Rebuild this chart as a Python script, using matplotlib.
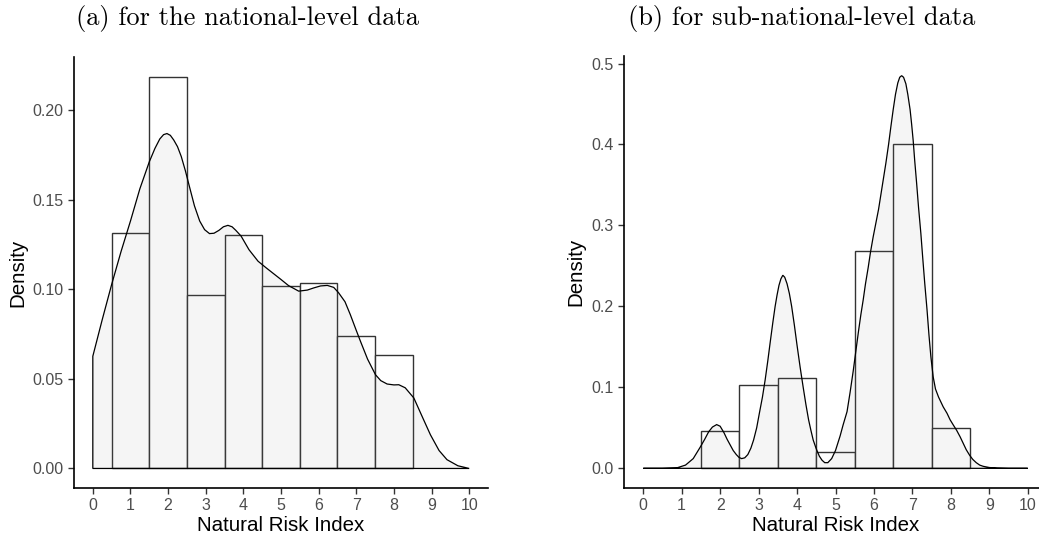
import matplotlib.pyplot as plt

plt.rcParams['font.family'] = ['Liberation Sans', 'DejaVu Sans']

# Histogram bins (centres, width 1) and densities.
nat_bins = [1, 2, 3, 4, 5, 6, 7, 8]
nat_heights = [0.1315, 0.2186, 0.0966, 0.1302, 0.102, 0.1034, 0.0737, 0.0635]

sub_bins = [2, 3, 4, 5, 6, 7, 8]
sub_heights = [0.046, 0.103, 0.112, 0.020, 0.269, 0.400, 0.050]

# Density curves, sampled by eye.
nat_dens_x = [0, 0.25, 0.5, 0.75, 1.0, 1.25, 1.5, 1.65, 1.78, 1.88, 1.97, 2.06,
              2.15, 2.25, 2.35, 2.46, 2.57, 2.7, 2.84, 2.97, 3.1, 3.22, 3.35,
              3.47, 3.59, 3.7, 3.8, 3.94, 4.15, 4.39, 4.6, 4.83, 5.0,
              5.2, 5.47, 5.7, 5.87, 6.05, 6.23, 6.4, 6.53, 6.7, 6.84, 7.0,
              7.11, 7.3, 7.51, 7.65, 7.82, 8.0, 8.13, 8.3, 8.53, 8.75, 8.97,
              9.2, 9.41, 9.7, 10.0]
nat_dens_y = [0.0626, 0.083, 0.1026, 0.121, 0.138, 0.156, 0.171, 0.1785, 0.1838,
              0.1862, 0.1868, 0.1858, 0.1832, 0.1795, 0.174, 0.166, 0.157,
              0.1465, 0.138, 0.1332, 0.131, 0.1312, 0.1328, 0.1348, 0.1356,
              0.1348, 0.1328, 0.1296, 0.122, 0.1156, 0.112, 0.1082, 0.1054,
              0.102, 0.0989, 0.0995, 0.1007, 0.1018, 0.1021, 0.101, 0.098,
              0.093, 0.0859, 0.077, 0.071, 0.061, 0.0523, 0.049, 0.0471,
              0.0466, 0.0467, 0.045, 0.0393, 0.029, 0.0188, 0.010, 0.0049,
              0.0015, 0.0]

sub_dens_x = [0, 0.5, 0.87, 1.1, 1.3, 1.48, 1.6, 1.7, 1.8, 1.91, 2.0, 2.1, 2.18,
              2.26, 2.34, 2.42, 2.49, 2.56, 2.64, 2.72, 2.8, 2.87, 2.95, 3.02,
              3.1, 3.17, 3.24, 3.3, 3.37, 3.43, 3.48, 3.53, 3.58, 3.63, 3.68,
              3.74, 3.8, 3.86, 3.93, 4.0, 4.08, 4.16, 4.23, 4.3, 4.36, 4.42,
              4.5, 4.58, 4.65, 4.72, 4.8, 4.9, 5.0, 5.12, 5.2, 5.3, 5.38, 5.46,
              5.53, 5.6, 5.66, 5.72, 5.78, 5.85, 5.91, 5.98, 6.05, 6.12, 6.18,
              6.24, 6.31, 6.38, 6.44, 6.5, 6.56, 6.62, 6.67, 6.72, 6.77, 6.83,
              6.88, 6.94, 6.98, 7.02, 7.06, 7.11, 7.16, 7.22, 7.27, 7.32, 7.38,
              7.43, 7.48, 7.54, 7.6, 7.68, 7.74, 7.8, 7.9, 7.98, 8.07, 8.15,
              8.24, 8.32, 8.4, 8.49, 8.57, 8.66, 8.75, 8.84, 9.0, 9.2, 9.5, 10]
sub_dens_y = [0, 0, 0.0005, 0.004, 0.012, 0.026, 0.036, 0.045, 0.051, 0.054,
              0.052, 0.044, 0.036, 0.029, 0.022, 0.017, 0.0135, 0.012, 0.013,
              0.017, 0.025, 0.035, 0.05, 0.068, 0.088, 0.109, 0.133, 0.155,
              0.18, 0.2, 0.214, 0.226, 0.234, 0.2385, 0.236, 0.228, 0.216, 0.2,
              0.177, 0.152, 0.125, 0.1, 0.079, 0.06, 0.047, 0.035, 0.024, 0.015,
              0.01, 0.007, 0.007, 0.012, 0.022, 0.04, 0.054, 0.07, 0.094, 0.12,
              0.145, 0.17, 0.19, 0.208, 0.228, 0.248, 0.267, 0.286, 0.303, 0.32,
              0.338, 0.356, 0.377, 0.4, 0.422, 0.443, 0.462, 0.476, 0.483,
              0.485, 0.483, 0.475, 0.462, 0.443, 0.425, 0.405, 0.38, 0.352,
              0.322, 0.29, 0.259, 0.229, 0.196, 0.165, 0.138, 0.113, 0.098,
              0.088, 0.082, 0.076, 0.068, 0.06, 0.053, 0.047, 0.039, 0.031,
              0.023, 0.016, 0.011, 0.007, 0.004, 0.0025, 0.001, 0.0003, 0, 0]

titles = ["(a) for the national-level data", "(b) for sub-national-level data"]
x_ticks = list(range(0, 11))


def draw_panel(ax, bins, heights, dens_x, dens_y, ylim, yticks, yfmt):
    ax.bar(bins, heights, width=1.0, facecolor='white', edgecolor='#333333',
           linewidth=1.0, zorder=2)
    # closed density polygon with outline all round
    px = [dens_x[0]] + dens_x + [dens_x[-1]]
    py = [0] + dens_y + [0]
    ax.fill(px, py, facecolor='grey', alpha=0.08, zorder=3)
    ax.fill(px, py, facecolor='none', edgecolor='black', linewidth=0.9, zorder=4)

    ax.set_xlim(-0.5, 10.5)
    ax.set_ylim(*ylim)
    ax.set_xticks(x_ticks)
    ax.set_yticks(yticks)
    ax.set_yticklabels([yfmt.format(v) for v in yticks])
    ax.tick_params(colors='#333333', labelcolor='#4D4D4D', labelsize=11.5,
                   length=4, width=1.0)
    for side in ['top', 'right']:
        ax.spines[side].set_visible(False)
    for side in ['left', 'bottom']:
        ax.spines[side].set_linewidth(1.2)
    ax.set_xlabel("Natural Risk Index", fontsize=14.8, labelpad=2)
    ax.set_ylabel("Density", fontsize=14.8, labelpad=4)


fig = plt.figure(figsize=(10.39, 5.39), dpi=100)
W, H = 1039, 539

ax1 = fig.add_axes([74 / W, 1 - 488 / H, (488 - 74) / W, (488 - 57) / H])
draw_panel(ax1, nat_bins, nat_heights, nat_dens_x, nat_dens_y,
           (-0.0109, 0.2295), [0.0, 0.05, 0.10, 0.15, 0.20], "{:.2f}")

ax2 = fig.add_axes([624 / W, 1 - 488 / H, (1047 - 624) / W, (488 - 56) / H])
draw_panel(ax2, sub_bins, sub_heights, sub_dens_x, sub_dens_y,
           (-0.0243, 0.5093), [0.0, 0.1, 0.2, 0.3, 0.4, 0.5], "{:.1f}")

fig.text(247 / W, 1 - 19 / H, titles[0], family='cmr10', fontsize=19,
         ha='center', va='center')
fig.text(802 / W, 1 - 19 / H, titles[1], family='cmr10', fontsize=19,
         ha='center', va='center')

fig.savefig("out.png", dpi=100)
